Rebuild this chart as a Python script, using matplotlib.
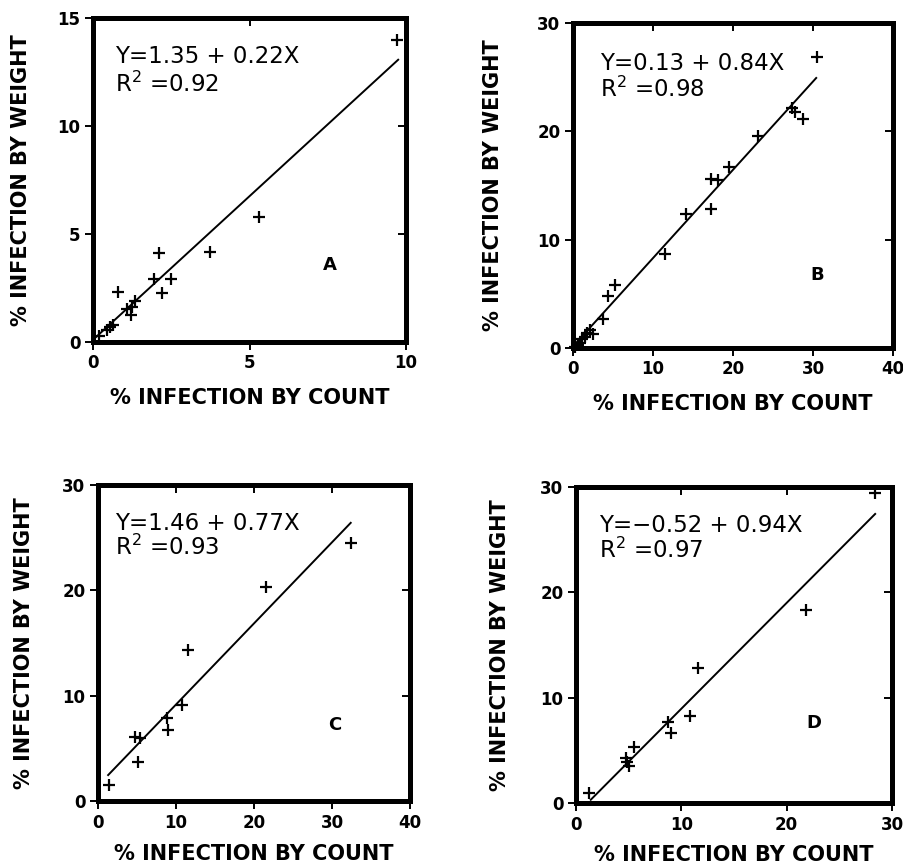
import matplotlib
matplotlib.use('Agg')
import matplotlib.pyplot as plt
import numpy as np

# panel A data
a_x = [0.2, 0.45, 0.55, 0.65, 0.8, 1.1, 1.2, 1.25, 1.35, 1.95, 2.1, 2.2, 2.5, 3.75, 5.3, 9.7]
a_y = [0.3, 0.55, 0.7, 0.8, 2.3, 1.55, 1.25, 1.6, 1.9, 2.9, 4.1, 2.25, 2.9, 4.15, 5.8, 14.0]
a_fit = [0.1, 1.33]          # intercept, slope of drawn line
a_span = [0.1, 9.75]
a_eq = ['Y=1.35 + 0.22X', 'R$^2$ =0.92']

# panel B data
b_x = [0.3, 0.6, 0.9, 1.1, 1.5, 1.8, 2.1, 2.5, 3.7, 4.4, 5.2, 11.5, 14.1, 17.2, 17.2, 18.1,
       19.5, 23.1, 27.4, 27.7, 28.8, 30.5]
b_y = [0.1, 0.3, 0.5, 0.8, 1.0, 1.4, 1.7, 1.3, 2.7, 4.8, 5.85, 8.7, 12.4, 15.6, 12.8, 15.5,
       16.7, 19.6, 22.2, 21.8, 21.1, 26.9]
b_fit = [0.15, 0.815]
b_span = [0.2, 30.4]
b_eq = ['Y=0.13 + 0.84X', 'R$^2$ =0.98']

# panel C data
c_x = [1.4, 4.8, 5.1, 5.4, 8.8, 9.0, 10.8, 11.5, 21.6, 32.4]
c_y = [1.5, 6.1, 3.7, 6.0, 7.85, 6.7, 9.1, 14.3, 20.3, 24.5]
c_fit = [1.46, 0.77]
c_span = [1.3, 32.4]
c_eq = ['Y=1.46 + 0.77X', 'R$^2$ =0.93']

# panel D data
d_x = [1.25, 4.7, 4.8, 5.0, 5.5, 8.7, 9.0, 10.8, 11.6, 21.8, 28.4]
d_y = [0.95, 4.25, 3.9, 3.55, 5.3, 7.7, 6.6, 8.3, 12.8, 18.3, 29.4]
d_fit = [-1.1, 1.005]
d_span = [1.4, 28.4]
d_eq = ['Y=\u22120.52 + 0.94X', 'R$^2$ =0.97']

xlabel = '% INFECTION BY COUNT'
ylabel = '% INFECTION BY WEIGHT'

W, H = 904, 866
fig = plt.figure(figsize=(W / 100, H / 100), dpi=100)

# panel layout in pixels: left, right, top, bottom; label offsets in pixels
panels = [
    dict(x=a_x, y=a_y, fit=a_fit, span=a_span, eq=a_eq, tag='A',
         box=(93, 406, 18, 342), xlim=(0, 10), ylim=(0, 15), xt=[0, 5, 10], yt=[0, 5, 10, 15],
         eqpos=(0.07, 0.861, 0.773), tagpos=(0.757, 0.237), ylo=-62, xlo=-46),
    dict(x=b_x, y=b_y, fit=b_fit, span=b_span, eq=b_eq, tag='B',
         box=(573, 893, 23, 348), xlim=(0, 40), ylim=(0, 30), xt=[0, 10, 20, 30, 40], yt=[0, 10, 20, 30],
         eqpos=(0.083, 0.856, 0.774), tagpos=(0.764, 0.226), ylo=-70, xlo=-46),
    dict(x=c_x, y=c_y, fit=c_fit, span=c_span, eq=c_eq, tag='C',
         box=(98, 410, 485, 801), xlim=(0, 40), ylim=(0, 30), xt=[0, 10, 20, 30, 40], yt=[0, 10, 20, 30],
         eqpos=(0.055, 0.858, 0.778), tagpos=(0.76, 0.24), ylo=-64, xlo=-43),
    dict(x=d_x, y=d_y, fit=d_fit, span=d_span, eq=d_eq, tag='D',
         box=(576, 892, 487, 803), xlim=(0, 30), ylim=(0, 30), xt=[0, 10, 20, 30], yt=[0, 10, 20, 30],
         eqpos=(0.074, 0.858, 0.775), tagpos=(0.752, 0.253), ylo=-66, xlo=-42),
]

for p in panels:
    l, r, t, b = p['box']
    ax = fig.add_axes([l / W, 1 - b / H, (r - l) / W, (b - t) / H])
    ax.set_xlim(p['xlim'])
    ax.set_ylim(p['ylim'])
    # data
    ax.plot(p['x'], p['y'], linestyle='none', marker='+', color='k',
            markersize=8.5, markeredgewidth=1.6, clip_on=False, zorder=3)
    xs = np.array(p['span'])
    ax.plot(xs, p['fit'][0] + p['fit'][1] * xs, color='k', linewidth=1.4)
    # frame and ticks
    for s in ax.spines.values():
        s.set_linewidth(3.6)
    ax.set_xticks(p['xt'])
    ax.set_yticks(p['yt'])
    ax.tick_params(direction='out', length=6, width=1.4, pad=3,
                   labelsize=12)
    for lab in ax.get_xticklabels() + ax.get_yticklabels():
        lab.set_fontweight('bold')
    # inward ticks on top and right
    top = ax.secondary_xaxis('top')
    top.set_xticks(p['xt'])
    top.tick_params(direction='in', length=6, width=1.4, labeltop=False)
    top.spines['top'].set_visible(False)
    rgt = ax.secondary_yaxis('right')
    rgt.set_yticks(p['yt'])
    rgt.tick_params(direction='in', length=6, width=1.4, labelright=False)
    rgt.spines['right'].set_visible(False)
    # labels
    ax.set_xlabel(xlabel, fontsize=15, fontweight='bold')
    ax.set_ylabel(ylabel, fontsize=15, fontweight='bold')
    ax.xaxis.set_label_coords(0.5, p['xlo'] / (b - t))
    ax.yaxis.set_label_coords(p['ylo'] / (r - l), 0.5)
    # equation and panel tag
    ex, ey1, ey2 = p['eqpos']
    ax.text(ex, ey1, p['eq'][0], transform=ax.transAxes, fontsize=16.5, va='baseline')
    ax.text(ex, ey2, p['eq'][1], transform=ax.transAxes, fontsize=16.5, va='baseline')
    ax.text(p['tagpos'][0], p['tagpos'][1], p['tag'], transform=ax.transAxes,
            fontsize=13, fontweight='heavy', ha='center', va='center')

fig.savefig('out.png', dpi=100, facecolor='w')
